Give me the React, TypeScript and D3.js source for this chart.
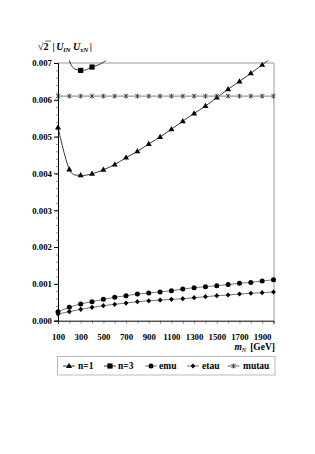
import { useEffect, useRef } from "react";
import * as d3 from "d3";

// masses m_N in GeV
const masses = [100, 200, 300, 400, 500, 600, 700, 800, 900, 1000, 1100, 1200, 1300, 1400, 1500, 1600, 1700, 1800, 1900, 2000];
const n1 = [0.00525, 0.00411, 0.00395, 0.00399, 0.0041, 0.00424, 0.00443, 0.0046, 0.0048, 0.00499, 0.0052, 0.00542, 0.00563, 0.00583, 0.00606, 0.00629, 0.0065, 0.00672, 0.00695, 0.00718];
const n3 = [0.0085, 0.00706, 0.0068, 0.00689, 0.00702, 0.0073, 0.0077, 0.0082, 0.0087, 0.0092, 0.0097, 0.0102, 0.0108, 0.0114, 0.012, 0.0126, 0.0132, 0.0138, 0.0144, 0.015];
const emu = [0.000245, 0.000364, 0.000454, 0.000517, 0.00058, 0.000635, 0.00068, 0.000725, 0.00075, 0.00078, 0.000815, 0.00086, 0.000897, 0.000924, 0.00095, 0.00098, 0.00102, 0.00104, 0.00108, 0.00111];
const etau = [0.000182, 0.000245, 0.00031, 0.000364, 0.000408, 0.000445, 0.00048, 0.000516, 0.00054, 0.00056, 0.00058, 0.000598, 0.000625, 0.000652, 0.00068, 0.000698, 0.000725, 0.000745, 0.00076, 0.00078];
const mutau = [0.0061, 0.0061, 0.0061, 0.0061, 0.0061, 0.0061, 0.0061, 0.0061, 0.0061, 0.0061, 0.0061, 0.0061, 0.0061, 0.0061, 0.0061, 0.0061, 0.0061, 0.0061, 0.0061, 0.0061];
const yTicks = [0, 0.001, 0.002, 0.003, 0.004, 0.005, 0.006, 0.007];
const xLabels = [100, 300, 500, 700, 900, 1100, 1300, 1500, 1700, 1900];
const legendNames = ["n=1", "n=3", "emu", "etau", "mutau"];

const W = 315;
const H = 454;
const left = 58;
const right = 273.5;
const top = 63;
const bottom = 320.7;
const yMax = 0.007;
const font = "'Liberation Serif', 'Times New Roman', serif";

type Marker = "triangle" | "square" | "circle" | "diamond" | "asterisk";

const series: { name: string; values: number[]; marker: Marker; stroke: string }[] = [
  { name: legendNames[0], values: n1, marker: "triangle", stroke: "#222" },
  { name: legendNames[1], values: n3, marker: "square", stroke: "#222" },
  { name: legendNames[2], values: emu, marker: "circle", stroke: "#666" },
  { name: legendNames[3], values: etau, marker: "diamond", stroke: "#666" },
  { name: legendNames[4], values: mutau, marker: "asterisk", stroke: "#999" }
];

function MarkerShape({ kind, x, y }: { kind: Marker; x: number; y: number }) {
  if (kind === "triangle") {
    return <path d={`M${x},${y - 3.2}L${x + 3},${y + 2}L${x - 3},${y + 2}Z`} fill="#000" />;
  }
  if (kind === "square") {
    return <rect x={x - 2.6} y={y - 2.6} width={5.2} height={5.2} fill="#000" />;
  }
  if (kind === "circle") {
    return <circle cx={x} cy={y} r={2.5} fill="#000" />;
  }
  if (kind === "diamond") {
    return <path d={`M${x},${y - 2.6}L${x + 2.4},${y}L${x},${y + 2.6}L${x - 2.4},${y}Z`} fill="#000" />;
  }
  return (
    <g stroke="#333" strokeWidth={0.9}>
      <line x1={x - 2} y1={y - 2} x2={x + 2} y2={y + 2} />
      <line x1={x - 2} y1={y + 2} x2={x + 2} y2={y - 2} />
      <line x1={x} y1={y - 2.4} x2={x} y2={y + 2.4} />
    </g>
  );
}

export default function App() {
  const yAxisRef = useRef<SVGGElement>(null);
  const yMinorRef = useRef<SVGGElement>(null);
  const xAxisRef = useRef<SVGGElement>(null);

  const x = d3.scaleLinear().domain([100, 2000]).range([left, right]);
  const y = d3.scaleLinear().domain([0, yMax]).range([bottom, top]);

  const line = d3
    .line<number>()
    .x((_, i) => x(masses[i]))
    .y((d) => y(d))
    .curve(d3.curveCardinal.tension(0));

  useEffect(() => {
    if (yAxisRef.current) {
      const g = d3.select(yAxisRef.current);
      g.call(d3.axisLeft(y).tickValues(yTicks).tickSize(4).tickPadding(2).tickFormat(d3.format(".3f")));
      g.select(".domain").attr("stroke", "#000").attr("stroke-width", 1);
      g.selectAll("text").attr("font-family", font).attr("font-weight", "bold").attr("font-size", 8.8).attr("fill", "#000");
    }
    if (yMinorRef.current) {
      const g = d3.select(yMinorRef.current);
      const minor = d3.range(0, 36).map((i) => i * 0.0002).filter((v) => v <= yMax + 1e-9);
      g.call(d3.axisLeft(y).tickValues(minor).tickSize(2).tickFormat(() => ""));
      g.select(".domain").remove();
      g.selectAll("line").attr("stroke", "#444").attr("stroke-width", 0.6);
    }
    if (xAxisRef.current) {
      const g = d3.select(xAxisRef.current);
      g.call(
        d3
          .axisBottom(x)
          .tickValues(masses)
          .tickSize(3)
          .tickPadding(10)
          .tickFormat((d) => (xLabels.includes(+d) ? String(d) : ""))
      );
      g.select(".domain").attr("stroke", "#000").attr("stroke-width", 1);
      g.selectAll("line").attr("stroke", "#444").attr("stroke-width", 0.6);
      g.selectAll("text").attr("font-family", font).attr("font-weight", "bold").attr("font-size", 8.8).attr("fill", "#000");
    }
  });

  const legendItems = [
    { marker: 69, text: 78 },
    { marker: 110, text: 118 },
    { marker: 151, text: 159 },
    { marker: 193, text: 202 },
    { marker: 233.5, text: 243 }
  ];

  return (
    <svg width={W} height={H} style={{ position: "absolute", left: 0, top: 0, background: "#fff" }}>
      <defs>
        <clipPath id="plot-clip">
          <rect x={left} y={top - 2.5} width={right - left + 1} height={bottom - top + 2.5} />
        </clipPath>
      </defs>

      {/* y title */}
      <text x={38} y={49.5} fontFamily={font} fontSize={10} fontWeight="bold" fill="#000">
        <tspan fontWeight="normal">√</tspan>
        <tspan>2</tspan>
        <tspan dx={4}>|</tspan>
        <tspan fontStyle="italic" dx={1.5}>U</tspan>
        <tspan fontStyle="italic" fontSize={7} dy={2}>lN</tspan>
        <tspan fontStyle="italic" dx={2.5} dy={-2}>U</tspan>
        <tspan fontStyle="italic" fontSize={7} dy={2}>τN</tspan>
        <tspan dx={1.5} dy={-2}>|</tspan>
      </text>
      <line x1={45.2} x2={51} y1={41} y2={41} stroke="#000" strokeWidth={0.6} />

      {/* frame */}
      <path d={`M${left},${top}H${right + 0.5}V${bottom}`} fill="none" stroke="#999" strokeWidth={1} />

      <g clipPath="url(#plot-clip)">
        {series.map((s) => (
          <path key={s.name} d={line(s.values) ?? ""} fill="none" stroke={s.stroke} strokeWidth={s.marker === "asterisk" ? 1.4 : 0.9} />
        ))}
      </g>
      {series.map((s) =>
        s.values.map((v, i) =>
          v <= yMax ? <MarkerShape key={`${s.name}-${i}`} kind={s.marker} x={x(masses[i])} y={y(v)} /> : null
        )
      )}

      <g ref={yMinorRef} transform={`translate(${left},0)`} />
      <g ref={yAxisRef} transform={`translate(${left},0)`} />
      <g ref={xAxisRef} transform={`translate(0,${bottom})`} />

      {/* x title */}
      <text x={275} y={350} textAnchor="end" fontFamily={font} fontSize={9.5} fontWeight="bold" fill="#000">
        <tspan fontStyle="italic">m</tspan>
        <tspan fontStyle="italic" fontWeight="normal" fontSize={6.5} dy={2}>N</tspan>
        <tspan dx={4} dy={-2}>[GeV]</tspan>
      </text>

      {/* legend */}
      <rect x={57.5} y={356.5} width={217.5} height={18.5} fill="#fff" stroke="#aaa" strokeWidth={0.8} />
      {series.map((s, i) => (
        <g key={`lg-${s.name}`}>
          <line x1={legendItems[i].marker - 6} x2={legendItems[i].marker + 6} y1={366} y2={366} stroke={s.stroke} strokeWidth={s.marker === "asterisk" ? 1.4 : 0.9} />
          <MarkerShape kind={s.marker} x={legendItems[i].marker} y={366} />
          <text x={legendItems[i].text} y={369} fontFamily={font} fontSize={9.5} fontWeight="bold" fill="#000">
            {s.name}
          </text>
        </g>
      ))}
    </svg>
  );
}
